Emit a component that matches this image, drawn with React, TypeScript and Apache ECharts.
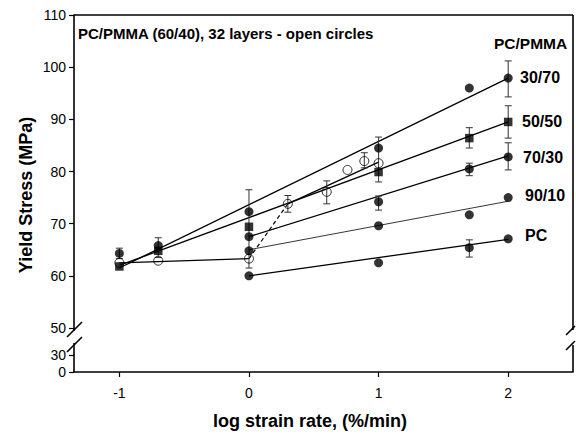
import React, { useEffect, useRef } from "react";
import * as echarts from "echarts";

// ---- data ----
const x3070 = [-1, -0.7, 0, 1, 1.7, 2];
const y3070 = [64.3, 65.8, 72.3, 84.5, 96.0, 97.9];
const x5050 = [-1, -0.7, 0, 1, 1.7, 2];
const y5050 = [61.8, 64.8, 69.4, 79.9, 86.4, 89.5];
const x7030 = [0, 1, 1.7, 2];
const y7030 = [67.5, 74.2, 80.5, 82.8];
const x9010 = [0, 1, 1.7, 2];
const y9010 = [64.8, 69.6, 71.7, 75.0];
const xPC = [0, 1, 1.7, 2];
const yPC = [60.0, 62.5, 65.4, 67.1];
const xOpen = [-1, -0.7, 0, 0.3, 0.6, 0.76, 0.89, 1.0];
const yOpen = [62.5, 62.9, 63.3, 73.8, 76.1, 80.3, 82.0, 81.6];

// fitted lines: [x, y] end points
const fit3070 = [[-1, 61.5], [2, 97.9]];
const fit5050 = [[-1, 62.0], [2, 89.5]];
const fit7030 = [[0, 67.5], [2, 83.0]];
const fit9010 = [[0, 65.0], [2, 74.3]];
const fitPC = [[0, 60.0], [2, 67.0]];
const openSolidA = [[-1, 62.5], [0, 63.3]];
const openDashed = [[0, 63.3], [0.3, 73.8]];
const openSolidB = [[0.3, 73.8], [1.0, 81.8]];

// error bars: [x, low, high]
const errorBars = [
  [-1, 63.3, 65.3],
  [-0.7, 63.5, 67.3],
  [0, 61.5, 76.5],
  [0.3, 72.2, 75.4],
  [0.6, 73.8, 78.2],
  [0.89, 80.7, 83.6],
  [1, 78.0, 86.6],
  [1, 72.6, 75.3],
  [1.7, 84.5, 88.4],
  [1.7, 79.2, 81.6],
  [1.7, 63.6, 66.9],
  [2, 94.3, 101.2],
  [2, 86.4, 92.6],
  [2, 80.3, 85.5],
];

const xTicks = [-1, 0, 1, 2];
const seriesLabels = ["30/70", "50/50", "70/30", "90/10", "PC"];

const zip = (xs: number[], ys: number[]) => xs.map((x, i) => [x, ys[i]]);

const FONT = "Liberation Sans, Arial, sans-serif";

export default function App() {
  const ref = useRef<HTMLDivElement>(null);
  useEffect(() => {
    const chart = echarts.init(ref.current!, null, { renderer: "svg" });
    const X0 = 74, X1 = 573, YTOP = 15, Y50 = 328, Y30 = 355, Y0 = 372;
    const black = "#000";
    const lineS = (data: number[][], width = 1.3, type: any = "solid") => ({
      type: "line",
      xAxisIndex: 0,
      yAxisIndex: 0,
      data,
      showSymbol: false,
      silent: true,
      lineStyle: { color: black, width, type },
      z: 2,
    });
    const scat = (data: number[][], symbol: string, size: number, open = false) => ({
      type: "scatter",
      xAxisIndex: 0,
      yAxisIndex: 0,
      data,
      symbol,
      symbolSize: size,
      itemStyle: open
        ? { color: "rgba(0,0,0,0)", borderColor: black, borderWidth: 1 }
        : { color: black },
      z: 4,
    });
    const labelY = [77, 121, 157, 195, 235];
    const labelX = [520, 522, 523, 525, 525];
    const gl = (x1: number, y1: number, x2: number, y2: number, w = 1.6) => ({
      type: "line",
      shape: { x1, y1, x2, y2 },
      style: { stroke: black, lineWidth: w },
      silent: true,
    });
    const txt = (text: string, x: number, y: number, size: number, align = "left", extra: any = {}) => ({
      type: "text",
      x,
      y,
      ...extra,
      style: {
        text,
        fontFamily: FONT,
        fontSize: size,
        fontWeight: "bold",
        fill: black,
        textAlign: align,
        textVerticalAlign: "middle",
      },
      silent: true,
    });
    const option: any = {
      animation: false,
      backgroundColor: "#fff",
      grid: [
        { left: X0, right: 576 - X1, top: YTOP, height: Y50 - YTOP },
        { left: X0, right: 576 - X1, top: Y30, height: Y0 - Y30 },
      ],
      xAxis: [
        { gridIndex: 0, type: "value", min: -1.35, max: 2.5, show: false },
        {
          gridIndex: 1,
          type: "value",
          min: -1.35,
          max: 2.5,
          axisLine: { show: true, onZero: false, lineStyle: { color: black, width: 1.6 } },
          axisTick: { show: true, customValues: xTicks, length: 5, inside: false, lineStyle: { color: black, width: 1.2 } },
          axisLabel: {
            customValues: xTicks,
            margin: 14,
            fontFamily: FONT,
            fontSize: 14,
            color: black,
          },
          splitLine: { show: false },
        },
      ],
      yAxis: [
        {
          gridIndex: 0,
          type: "value",
          min: 50,
          max: 110,
          interval: 10,
          axisLine: { show: true, onZero: false, lineStyle: { color: black, width: 1.6 } },
          axisTick: { show: true, length: 5, lineStyle: { color: black, width: 1.2 } },
          axisLabel: { fontFamily: FONT, fontSize: 14, color: black, margin: 8 },
          splitLine: { show: false },
        },
        {
          gridIndex: 1,
          type: "value",
          min: 0,
          max: 30,
          interval: 30,
          axisLine: { show: true, onZero: false, lineStyle: { color: black, width: 1.6 } },
          axisTick: { show: true, length: 5, lineStyle: { color: black, width: 1.2 } },
          axisLabel: { fontFamily: FONT, fontSize: 14, color: black, margin: 8 },
          splitLine: { show: false },
        },
      ],
      series: [
        lineS(fit3070),
        lineS(fit5050),
        lineS(fit7030),
        lineS(fit9010, 0.8),
        lineS(fitPC),
        lineS(openSolidA),
        lineS(openDashed, 1.2, [4, 3]),
        lineS(openSolidB),
        {
          type: "custom",
          xAxisIndex: 0,
          yAxisIndex: 0,
          data: errorBars,
          encode: { x: 0, y: [1, 2] },
          z: 3,
          silent: true,
          renderItem: (params: any, api: any) => {
            const x = api.value(0);
            const lo = api.coord([x, api.value(1)]);
            const hi = api.coord([x, api.value(2)]);
            const w = 3.5;
            const st = { stroke: "#333", lineWidth: 1 };
            return {
              type: "group",
              children: [
                { type: "line", shape: { x1: lo[0], y1: lo[1], x2: hi[0], y2: hi[1] }, style: st },
                { type: "line", shape: { x1: hi[0] - w, y1: hi[1], x2: hi[0] + w, y2: hi[1] }, style: st },
                { type: "line", shape: { x1: lo[0] - w, y1: lo[1], x2: lo[0] + w, y2: lo[1] }, style: st },
              ],
            };
          },
        },
        scat(zip(x3070, y3070), "circle", 9),
        scat(zip(x5050, y5050), "rect", 8.5),
        scat(zip(x7030, y7030), "circle", 9),
        scat(zip(x9010, y9010), "circle", 9),
        scat(zip(xPC, yPC), "circle", 9),
        scat(zip(xOpen, yOpen), "circle", 9, true),
      ],
      graphic: [
        gl(X0, YTOP, X1, YTOP),
        gl(X1, YTOP, X1, 330),
        gl(X1, 345, X1, Y0),
        gl(566, 335, 575, 326),
        gl(566, 350, 575, 341),
        gl(X0, Y50, X0, 331),
        gl(X0, 343, X0, Y30),
        gl(67, 337, 82, 322),
        gl(67, 352, 82, 337),
        txt("PC/PMMA (60/40), 32 layers - open circles", 78, 33, 15),
        txt("PC/PMMA", 494, 43, 15.5),
        ...seriesLabels.map((s, i) => txt(s, labelX[i], labelY[i], 16)),
        txt("Yield Stress (MPa)", 26, 195, 18, "center", { rotation: Math.PI / 2 }),
        txt("log strain rate, (%/min)", 310, 421, 18, "center"),
      ],
    };
    chart.setOption(option);
    return () => chart.dispose();
  }, []);
  return (
    <div
      ref={ref}
      style={{ position: "fixed", left: 0, top: 0, width: 576, height: 434, background: "#fff" }}
    />
  );
}
